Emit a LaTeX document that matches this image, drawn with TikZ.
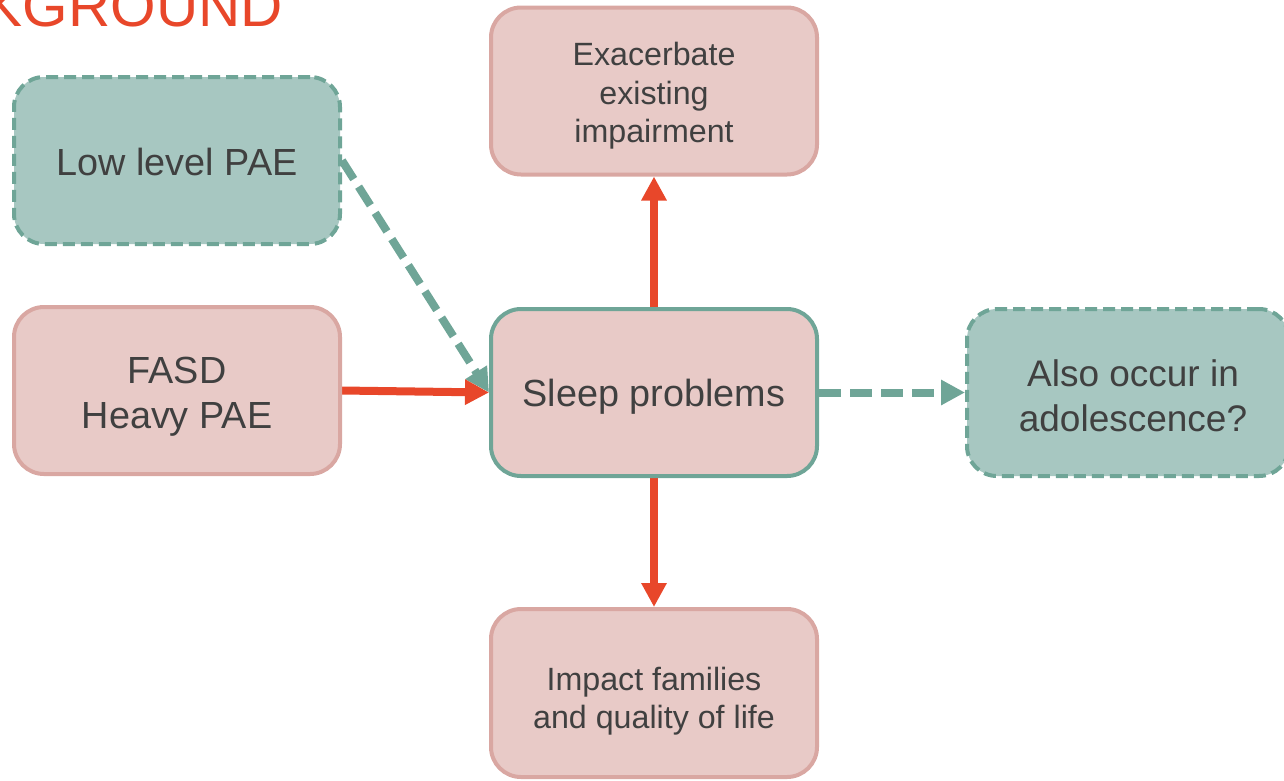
\documentclass[tikz,border=0pt]{standalone}
\usepackage{fontspec}
\setmainfont{Liberation Sans}
\usetikzlibrary{arrows.meta,backgrounds}
\definecolor{pinkfill}{HTML}{E8CAC7}
\definecolor{pinkline}{HTML}{D9A7A2}
\definecolor{tealfill}{HTML}{A7C7C1}
\definecolor{tealline}{HTML}{6FA597}
\definecolor{accent}{HTML}{E8472A}
\definecolor{txt}{HTML}{404040}
\tikzset{
  box/.style={rounded corners=30pt, line width=4pt, minimum width=326pt,
    minimum height=167pt, inner sep=0pt},
  solidbox/.style={box, fill=pinkfill, draw=pinkline},
  hubbox/.style={box, fill=pinkfill, draw=tealline},
  openbox/.style={box, fill=tealfill, draw=tealline, dash pattern=on 12pt off 6pt},
  label text/.style={inner sep=0pt, align=center, text=txt},
  bigtext/.style={label text, font=\fontsize{37.8}{45}\selectfont},
  smalltext/.style={label text, font=\fontsize{32.2}{38.5}\selectfont},
  link/.style={line width=8pt, color=accent, -{Triangle[length=24pt,width=24pt]}},
  maybe/.style={line width=8pt, color=tealline, dash pattern=on 22pt off 9pt,
    -{Triangle[length=24pt,width=24pt]}}
}
\begin{document}
\begin{tikzpicture}[x=1pt,y=-1pt]
\useasboundingbox (0,0) rectangle (1284,780);
\node[anchor=base east, inner sep=0pt, text=accent,
  font=\fontsize{58.5}{60}\selectfont] (title) at (283,26) {BACKGROUND};

% boxes
\node[openbox] (low) at (177,160.5) {};
\node[solidbox] (fasd) at (177,390.5) {};
\node[solidbox] (exa) at (654,91) {};
\node[hubbox] (sleep) at (654,392.5) {};
\node[openbox, minimum width=322pt] (adol) at (1128,392.5) {};
\node[solidbox, minimum height=168pt] (imp) at (654,693) {};

% box texts
\node[bigtext] (lowtext) at ([yshift=-1pt]low.center) {Low level PAE};
\node[bigtext] (fasdtext) at ([yshift=-6pt]fasd.center) {FASD\\Heavy PAE};
\node[smalltext] (exatext) at ([yshift=-5pt]exa.center) {Exacerbate\\existing\\impairment};
\node[bigtext] (sleeptext) at ([yshift=-4pt]sleep.center) {Sleep problems};
\node[bigtext, font=\fontsize{37}{45}\selectfont] (adoltext) at ([xshift=5pt,yshift=-3pt]adol.center) {Also occur in\\adolescence?};
\node[smalltext] (imptext) at ([yshift=-8pt]imp.center) {Impact families\\and quality of life};

\begin{pgfonlayer}{background}
  \draw[maybe] (low.east) -- (sleep.west);
  \draw[link] (fasd.east) -- (sleep.west);
  \draw[maybe] (sleep.east) -- (adol.west);
  \draw[link] (sleep.north) -- (exa.south);
  \draw[link] (sleep.south) -- (imp.north);
\end{pgfonlayer}
\end{tikzpicture}
\end{document}
